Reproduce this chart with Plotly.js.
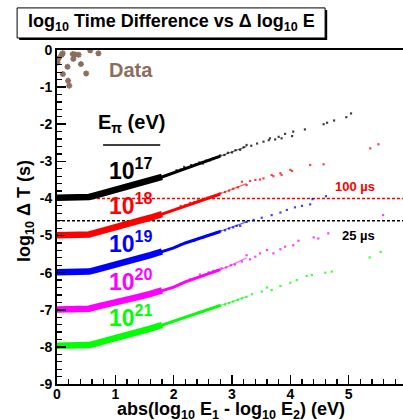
<!DOCTYPE html>
<html><head><meta charset="utf-8">
<script src="https://cdn.plot.ly/plotly-3.0.1.min.js"></script>
<style>html,body{margin:0;padding:0;overflow:hidden;background:#fff}#plot{width:415px;height:420px}</style>
</head><body><div id="plot"></div><script>
// ---- Data ----
const dataX = [0.098,0.27,0.31,0.37,0.57,0.71,0.03,0.01,0.18,0.41,0.28,0.10,0.50,0.19,0.21,0.08];
const dataY = [-0.09,-0.11,-0.12,-0.13,-0.01,-0.09,-0.22,-0.34,-0.45,-0.38,-0.24,-0.65,-0.63,-0.83,-0.96,-0.13];

const energyLabels = ['10<sup>17</sup>','10<sup>18</sup>','10<sup>19</sup>','10<sup>20</sup>','10<sup>21</sup>'];
const seriesColors = ['#000000','#ff0000','#0000ff','#ff00ff','#00ff00'];

const xTickVals = [0,1,2,3,4,5,6];
const xTickText = ['0','1','2','3','4','5','6'];
const yTickVals = [0,-1,-2,-3,-4,-5,-6,-7,-8,-9];
const yTickText = ['0','-1','-2','-3','-4','-5','-6','-7','-8','-9'];

// dense (thick) part of each series
const bandX = [0,0.45,0.55,0.65,0.8,1.0,1.2,1.4,1.6,1.8];
const band17Y = [-3.98,-3.98,-3.96,-3.92,-3.86,-3.78,-3.70,-3.61,-3.52,-3.42];
const band18Y = [-4.99,-4.99,-4.97,-4.93,-4.87,-4.79,-4.71,-4.61,-4.52,-4.42];
const band19Y = [-5.99,-5.99,-5.97,-5.93,-5.87,-5.80,-5.71,-5.62,-5.53,-5.43];
const band20Y = [-6.99,-6.99,-6.97,-6.93,-6.88,-6.82,-6.74,-6.65,-6.57,-6.48];
const band21Y = [-7.97,-7.97,-7.95,-7.91,-7.85,-7.78,-7.69,-7.60,-7.51,-7.41];

// medium-density part
const midX = [1.75,2.0,2.2,2.5,2.8];
const mid17Y = [-3.45,-3.31,-3.20,-3.03,-2.86];
const mid18Y = [-4.45,-4.31,-4.20,-4.03,-3.88];
const mid19Y = [-5.46,-5.33,-5.20,-5.05,-4.89];
const mid20Y = [-6.51,-6.39,-6.25,-6.08,-5.92];
const mid21Y = [-7.44,-7.31,-7.20,-7.04,-6.88];

// thinning part
const thinX = [2.75,3.0,3.25];
const thin17Y = [-2.89,-2.75,-2.60];
const thin18Y = [-3.90,-3.75,-3.60];
const thin19Y = [-4.91,-4.77,-4.63];
const thin20Y = [-5.95,-5.79,-5.60];
const thin21Y = [-6.91,-6.77,-6.65];

// sparse scattered points
const tail17X = [2.05,2.12,2.18,2.25,2.3,2.38,2.44,2.5,2.56,2.62,2.68,2.74,2.8,2.87,2.93,3.0,3.06,3.14,3.2,3.25,3.33,3.43,3.54,3.63,3.65,3.74,3.80,3.85,3.91,4.03,4.05,4.25,4.57,4.63,4.75,4.96,5.04];
const tail17Y = [-3.24,-3.22,-3.15,-3.17,-3.10,-3.08,-3.03,-3.06,-2.98,-2.97,-2.92,-2.90,-2.84,-2.83,-2.77,-2.76,-2.70,-2.69,-2.62,-2.56,-2.58,-2.52,-2.47,-2.43,-2.38,-2.41,-2.34,-2.38,-2.26,-2.32,-2.20,-2.14,-2.00,-1.96,-1.90,-1.81,-1.71];
const tail18X = [2.05,2.12,2.2,2.28,2.35,2.42,2.5,2.58,2.65,2.72,2.8,2.88,2.95,3.02,3.1,3.17,3.25,3.31,3.40,3.48,3.54,3.68,3.71,3.85,3.83,4.0,4.03,4.34,4.57,5.37,5.51];
const tail18Y = [-4.28,-4.20,-4.18,-4.12,-4.10,-4.05,-4.03,-3.98,-3.95,-3.91,-3.86,-3.83,-3.79,-3.74,-3.70,-3.55,-3.64,-3.53,-3.50,-3.49,-3.46,-3.37,-3.40,-3.37,-3.32,-3.23,-3.26,-3.10,-3.08,-2.65,-2.54];
const tail19X = [2.05,2.12,2.2,2.28,2.35,2.42,2.5,2.58,2.65,2.72,2.8,2.88,2.95,3.02,3.08,3.14,3.25,3.37,3.51,3.68,3.83,3.94,4.08,4.2,4.34,4.38,4.61];
const tail19Y = [-5.30,-5.24,-5.20,-5.15,-5.14,-5.08,-5.06,-5.00,-4.97,-4.93,-4.88,-4.86,-4.81,-4.78,-4.74,-4.74,-4.63,-4.58,-4.52,-4.45,-4.38,-4.31,-4.24,-4.20,-4.16,-4.02,-3.94];
const tail20X = [2.05,2.12,2.2,2.28,2.35,2.45,2.52,2.6,2.68,2.75,2.82,2.9,2.98,3.05,3.17,3.25,3.31,3.40,3.48,3.60,3.71,3.83,3.91,4.05,4.14,4.40,4.48,4.65,5.59];
const tail20Y = [-6.36,-6.30,-6.25,-6.18,-6.16,-6.05,-6.07,-5.99,-5.95,-5.93,-5.88,-5.86,-5.80,-5.78,-5.70,-5.53,-5.64,-5.57,-5.48,-5.39,-5.48,-5.37,-5.30,-5.26,-5.14,-5.05,-5.08,-4.94,-4.45];
const tail21X = [2.05,2.12,2.2,2.28,2.35,2.42,2.5,2.58,2.65,2.72,2.8,2.88,2.95,3.02,3.1,3.17,3.25,3.34,3.51,3.60,3.68,3.83,4.0,4.11,4.28,4.37,4.60,4.71,5.36,5.55];
const tail21Y = [-7.28,-7.24,-7.19,-7.15,-7.12,-7.07,-7.05,-7.00,-6.97,-6.93,-6.89,-6.86,-6.82,-6.78,-6.73,-6.69,-6.65,-6.58,-6.51,-6.40,-6.47,-6.36,-6.27,-6.20,-6.09,-6.06,-6.00,-5.97,-5.59,-5.44];

const refLineX = [0, 6];
const ref100usY = [-4, -4];
const ref25usY = [-4.602, -4.602];

// ---- Build traces ----
const FONT = 'Liberation Sans, Arial, Helvetica, sans-serif';
const bandYs = [band17Y, band18Y, band19Y, band20Y, band21Y];
const midYs = [mid17Y, mid18Y, mid19Y, mid20Y, mid21Y];
const thinYs = [thin17Y, thin18Y, thin19Y, thin20Y, thin21Y];
const tailXs = [tail17X, tail18X, tail19X, tail20X, tail21X];
const tailYs = [tail17Y, tail18Y, tail19Y, tail20Y, tail21Y];

const traces = [];
traces.push({x: refLineX, y: ref100usY, mode: 'lines', line: {color: '#ff0000', width: 1.5, dash: '3px,2px'}, hoverinfo: 'skip'});
traces.push({x: refLineX, y: ref25usY, mode: 'lines', line: {color: '#000000', width: 1.5, dash: '3px,2px'}, hoverinfo: 'skip'});
for (let i = 0; i < 5; i++) {
  traces.push({x: bandX, y: bandYs[i], mode: 'lines', line: {color: seriesColors[i], width: 6.5}});
  traces.push({x: midX, y: midYs[i], mode: 'lines', line: {color: seriesColors[i], width: 3}});
  traces.push({x: thinX, y: thinYs[i], mode: 'lines', line: {color: seriesColors[i], width: 1.2}, opacity: 0.6});
  traces.push({x: tailXs[i], y: tailYs[i], mode: 'markers', marker: {color: seriesColors[i], size: 2.2, symbol: 'square', opacity: 0.75}});
}
traces.push({x: dataX, y: dataY, mode: 'markers', marker: {color: '#8c6e5e', size: 5, symbol: 'asterisk-open', line: {color: '#8c6e5e', width: 1.6}}});

// ---- Annotations ----
const labelY = [-3.21, -4.15, -5.17, -6.2, -7.17];
const annotations = [];
function ann(x, y, xref, yref, text, size, color, extra) {
  return Object.assign({x: x, y: y, xref: xref, yref: yref, text: text, showarrow: false,
    xanchor: 'center', yanchor: 'middle', font: {family: FONT, size: size, color: color}}, extra || {});
}
for (let i = 0; i < 5; i++) {
  annotations.push(ann(1.27, labelY[i], 'x', 'y', '<b>' + energyLabels[i] + '</b>', 23, seriesColors[i]));
}
annotations.push(ann(1.27, -0.54, 'x', 'y', '<b>Data</b>', 20, '#8c6e5e'));
annotations.push(ann(1.28, -1.99, 'x', 'y', '<b>E<sub>π</sub> (eV)</b>', 20, '#000'));
annotations.push(ann(5.11, -3.67, 'x', 'y', '<b>100 µs</b>', 13, '#ff0000'));
annotations.push(ann(5.16, -4.99, 'x', 'y', '<b>25 µs</b>', 13, '#000'));
annotations.push(ann(0.326, 1.081, 'paper', 'paper', '<b>log<sub>10</sub> Time Difference vs Δ log<sub>10</sub> E</b>', 18, '#000'));
annotations.push(ann(0.497, -0.08, 'paper', 'paper', '<b>abs(log<sub>10</sub> E<sub>1</sub> - log<sub>10</sub> E<sub>2</sub>) (eV)</b>', 18, '#000'));
annotations.push(ann(-0.0886, 0.518, 'paper', 'paper', '<b>log<sub>10</sub> Δ T (s)</b>', 18, '#000', {textangle: -90}));

const shapes = [
  {type: 'rect', xref: 'paper', yref: 'paper', x0: -0.108, x1: 0.772, y0: 1.03, y1: 1.12, fillcolor: '#000', line: {width: 0}},
  {type: 'rect', xref: 'paper', yref: 'paper', x0: -0.114, x1: 0.766, y0: 1.036, y1: 1.126, fillcolor: '#fff', line: {color: '#000', width: 1}},
  {type: 'line', xref: 'x', yref: 'y', x0: 0.79, x1: 1.77, y0: -2.56, y1: -2.56, line: {color: '#000', width: 1.5}}
];

const axisCommon = {
  showgrid: false, zeroline: false, showline: true, mirror: true, linecolor: '#000', linewidth: 2,
  ticks: 'inside', tickcolor: '#000', tickwidth: 1.5, tickmode: 'array',
  tickfont: {family: FONT, size: 14, color: '#000', weight: 700}
};
const boldText = arr => arr.map(t => '<b>' + t + '</b>');

const layout = {
  width: 415, height: 420,
  margin: {l: 57, r: 8, t: 50, b: 36},
  paper_bgcolor: '#fff', plot_bgcolor: '#fff',
  showlegend: false,
  xaxis: Object.assign({}, axisCommon, {range: [0, 6], tickvals: xTickVals, ticktext: boldText(xTickText), ticklen: 9,
    ticklabelstandoff: -4,
    minor: {ticks: 'inside', dtick: 0.2, ticklen: 5, tickcolor: '#000', tickwidth: 1.2, showgrid: false}}),
  yaxis: Object.assign({}, axisCommon, {range: [-9, 0], tickvals: yTickVals, ticktext: boldText(yTickText), ticklen: 9,
    minor: {ticks: 'inside', dtick: 0.2, ticklen: 5, tickcolor: '#000', tickwidth: 1.2, showgrid: false}}),
  annotations: annotations,
  shapes: shapes
};

Plotly.newPlot('plot', traces, layout, {staticPlot: true, displayModeBar: false});
</script></body></html>
